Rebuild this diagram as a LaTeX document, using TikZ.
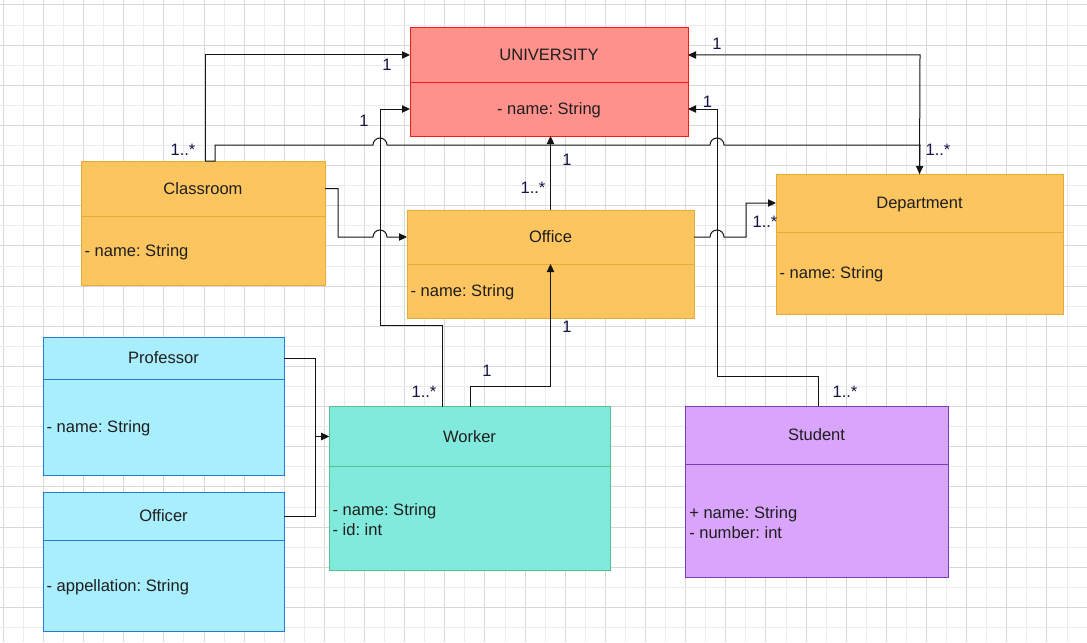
\documentclass[tikz,border=0pt]{standalone}
\usepackage{fontspec}
\setmainfont{Liberation Sans}
\usetikzlibrary{arrows.meta}
\definecolor{gridl}{RGB}{236,236,236}
\definecolor{gridd}{RGB}{216,216,216}
\definecolor{uf}{RGB}{255,145,140}
\definecolor{ub}{RGB}{236,30,30}
\definecolor{of}{RGB}{253,197,95}
\definecolor{ob}{RGB}{230,172,55}
\definecolor{cf}{RGB}{168,238,252}
\definecolor{cb}{RGB}{30,125,205}
\definecolor{tf}{RGB}{130,234,220}
\definecolor{tb}{RGB}{85,195,135}
\definecolor{pf}{RGB}{216,164,252}
\definecolor{pb}{RGB}{125,60,180}
\definecolor{txt}{RGB}{30,30,30}
\definecolor{lc}{RGB}{20,20,20}
\definecolor{labc}{RGB}{20,20,70}
\newcommand{\fs}{\fontsize{12.4}{15}\selectfont\frenchspacing}
\begin{document}
\begin{tikzpicture}[x=0.75pt,y=-0.75pt,
  box/.style={draw, line width=0.75pt, inner sep=0pt, outer sep=0pt, font=\fs, text=txt, text height=11.9pt, text depth=3pt},
  attr/.style={anchor=west, inner sep=0pt, font=\fs, text=txt, text height=11.9pt, text depth=3pt},
  attrm/.style={anchor=west, inner sep=0pt, align=left, font=\fs, text=txt, yshift=-1.5pt},
  conn/.style={draw=lc, line width=0.75pt, -{Triangle[length=6pt,width=5.5pt]}},
  lab/.style={inner sep=0pt, font=\fs, text=labc}]
\useasboundingbox (0,0) rectangle (1087,642);
\fill[white] (0,0) rectangle (1087,642);
% grid
\foreach \i in {0,...,54}{\ifodd\i\def\gc{gridl}\else\def\gc{gridd}\fi
  \draw[\gc, line width=0.75pt] ({3.3+20.07*\i},0) -- ({3.3+20.07*\i},642);}
\foreach \i in {0,...,31}{\ifodd\i\def\gc{gridl}\else\def\gc{gridd}\fi
  \draw[\gc, line width=0.75pt] (0,{5+20.08*\i}) -- (1087,{5+20.08*\i});}

% UNIVERSITY
\node[box, fill=uf, draw=ub, minimum width=208.5pt, minimum height=40.5pt] (univ) at (549,55) {UNIVERSITY};
\node[box, fill=uf, draw=ub, minimum width=208.5pt, minimum height=40.5pt] (univb) at (549,109) {- name: String};
% Classroom
\node[box, fill=of, draw=ob, minimum width=183pt, minimum height=41.25pt] (cls) at (203,188.5) {Classroom};
\node[box, fill=of, draw=ob, minimum width=183pt, minimum height=51.75pt] (clsb) at (203,250.5) {};
\node[attr] (clsa) at ([xshift=2.5pt]clsb.west) {- name: String};
% Office
\node[box, fill=of, draw=ob, minimum width=215.25pt, minimum height=40.5pt] (off) at (550.5,237) {Office};
\node[box, fill=of, draw=ob, minimum width=215.25pt, minimum height=40.5pt] (offb) at (550.5,291) {};
\node[attr] (offa) at ([xshift=2.5pt]offb.west) {- name: String};
% Department
\node[box, fill=of, draw=ob, minimum width=215.25pt, minimum height=43.5pt] (dept) at (919.5,203) {Department};
\node[box, fill=of, draw=ob, minimum width=215.25pt, minimum height=61.5pt] (deptb) at (919.5,273) {};
\node[attr] (depta) at ([xshift=2.5pt]deptb.west) {- name: String};
% Professor
\node[box, fill=cf, draw=cb, minimum width=180.75pt, minimum height=31.5pt] (prof) at (163.5,358) {Professor};
\node[box, fill=cf, draw=cb, minimum width=180.75pt, minimum height=72pt] (profb) at (163.5,427) {};
\node[attr] (profa) at ([xshift=2.5pt]profb.west) {- name: String};
% Officer
\node[box, fill=cf, draw=cb, minimum width=180.75pt, minimum height=36pt] (offc) at (163.5,516) {Officer};
\node[box, fill=cf, draw=cb, minimum width=180.75pt, minimum height=68.25pt] (offcb) at (163.5,585.5) {};
\node[attr] (offca) at ([xshift=2.5pt]offcb.west) {- appellation: String};
% Worker
\node[box, fill=tf, draw=tb, minimum width=210.75pt, minimum height=45pt] (work) at (469.5,436.5) {Worker};
\node[box, fill=tf, draw=tb, minimum width=210.75pt, minimum height=78pt] (workb) at (469.5,518) {};
\node[attrm] (worka) at ([xshift=2.5pt]workb.west) {- name: String\\- id: int};
% Student
\node[box, fill=pf, draw=pb, minimum width=197.25pt, minimum height=43.5pt] (stud) at (816.5,435) {Student};
\node[box, fill=pf, draw=pb, minimum width=197.25pt, minimum height=84.75pt] (studb) at (816.5,520.5) {};
\node[attrm] (studa) at ([xshift=3pt]studb.west) {+ name: String\\- number: int};

% connectors
% Classroom -> UNIVERSITY
\draw[conn] ([xshift=93pt]cls.north west) -- (205,55) -- (univ.west);
% Classroom -> Department
\draw[conn] ([xshift=93pt]cls.north west) -- (215,161) -- (215,145) -- (373,145)
  arc[start angle=180, end angle=0, radius=5.25pt] -- (710,145)
  arc[start angle=180, end angle=0, radius=5.25pt] -- (920,145) -- (dept.north);
% Department -> UNIVERSITY
\draw[conn] (dept.north) -- (920,55) -- (univ.east);
% Worker -> UNIVERSITY
\draw[conn] ([xshift=84.75pt]work.north west) -- (442,325) -- (380,325) -- (380,109) -- (univb.west);
% Classroom -> Office
\draw[conn] (cls.east) -- (338,188.5) -- (338,237) -- (373,237)
  arc[start angle=180, end angle=0, radius=5.25pt] -- (off.west);
% Office -> UNIVERSITY
\draw[conn] (off.north) -- (off.north |- univb.south);
% Office -> Department
\draw[conn] (off.east) -- (710,237)
  arc[start angle=180, end angle=0, radius=5.25pt] -- (746,237) -- (746,203) -- (dept.west);
% Student -> UNIVERSITY
\draw[conn] ([xshift=99.75pt]stud.north west) -- (818,376) -- (717,376) -- (717,109) -- (univb.east);
% Worker -> Office
\draw[conn] ([xshift=105.75pt]work.north west) -- (470,386) -- (550.5,386) -- (off.south);
% Professor -> Worker
\draw[conn] (prof.east) -- (315,358) -- (315,436.5) -- (work.west);
% Officer -> Worker
\draw[conn] (offc.east) -- (315,516) -- (315,436.5) -- (work.west);

% multiplicity labels
\node[lab] (l1) at (387,65) {1};
\node[lab] (l2) at (183,150) {1..*};
\node[lab] (l3) at (717,44) {1};
\node[lab] (l4) at (938,150) {1..*};
\node[lab] (l5) at (364,121) {1};
\node[lab] (l6) at (707.5,101.5) {1};
\node[lab] (l7) at (567,160) {1};
\node[lab] (l8) at (533,188) {1..*};
\node[lab] (l9) at (765,222) {1..*};
\node[lab] (l10) at (567,327) {1};
\node[lab] (l11) at (487,371) {1};
\node[lab] (l12) at (424,392) {1..*};
\node[lab] (l13) at (845,392) {1..*};
\end{tikzpicture}
\end{document}
